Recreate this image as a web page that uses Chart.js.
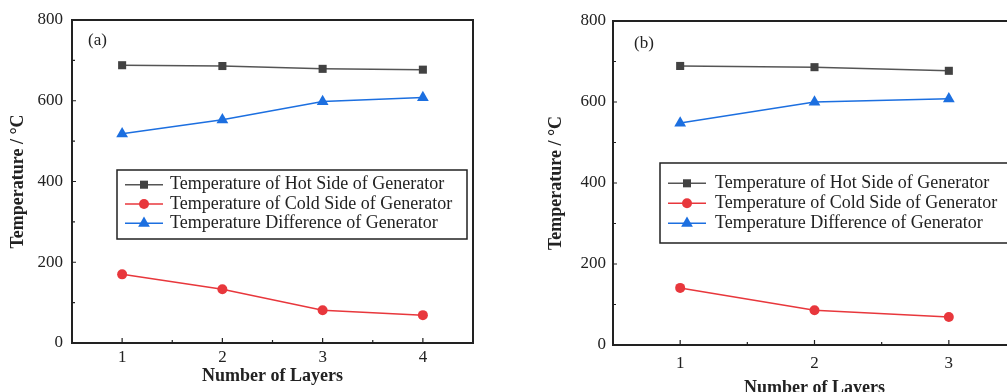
<!DOCTYPE html>
<html>
<head>
<meta charset="utf-8">
<script src="https://cdn.jsdelivr.net/npm/chart.js@4/dist/chart.umd.min.js"></script>
<style>
  html, body { margin: 0; padding: 0; background: #fff; overflow: hidden; width: 1007px; height: 392px; }
  canvas { position: absolute; top: 0; }
  #chartA { left: 0; }
  #chartB { left: 540px; }
</style>
</head>
<body>
<canvas id="chartA" width="490" height="392"></canvas>
<canvas id="chartB" width="490" height="400"></canvas>
<script>
// panel (a): 4 layers
const layersA = [1, 2, 3, 4];
const hotA = [688, 686, 679, 677];
const coldA = [170, 133, 81, 69];
const diffA = [518, 553, 598, 608];
const xMinorA = [1.5, 2.5, 3.5];

// panel (b): 3 layers
const layersB = [1, 2, 3];
const hotB = [689, 686, 677];
const coldB = [141, 86, 69];
const diffB = [548, 600, 608];
const xMinorB = [1.5, 2.5];

const yMajor = [0, 200, 400, 600, 800];
const yMinor = [100, 300, 500, 700];

const seriesNames = [
    'Temperature of Hot Side of Generator',
    'Temperature of Cold Side of Generator',
    'Temperature Difference of Generator'
];

const FONT = "'Liberation Serif', 'Times New Roman', serif";
const INK = '#222';

const styles = [
    { line: '#555555', fill: '#424242', point: 'rect', radius: 5.7 },
    { line: '#e8373c', fill: '#e8373c', point: 'circle', radius: 5 },
    { line: '#1c6fe0', fill: '#1c6fe0', point: 'triangle', radius: 6.8 }
];

function toPoints(xs, ys) {
    return xs.map((x, i) => ({ x: x, y: ys[i] }));
}

// frame, inward ticks, panel label and the boxed legend
const decorPlugin = {
    id: 'decor',
    afterDraw(chart, args, opts) {
        const { ctx, chartArea: a, scales: { x, y } } = chart;
        ctx.save();
        ctx.strokeStyle = INK;
        ctx.lineWidth = 2;
        ctx.strokeRect(a.left, a.top, a.right - a.left, a.bottom - a.top);

        ctx.lineWidth = 1.2;
        ctx.beginPath();
        opts.xMajor.forEach(v => { const px = x.getPixelForValue(v); ctx.moveTo(px, a.bottom); ctx.lineTo(px, a.bottom - 5); });
        opts.xMinor.forEach(v => { const px = x.getPixelForValue(v); ctx.moveTo(px, a.bottom); ctx.lineTo(px, a.bottom - 3); });
        yMajor.forEach(v => { const py = y.getPixelForValue(v); ctx.moveTo(a.left, py); ctx.lineTo(a.left + 4, py); });
        yMinor.forEach(v => { const py = y.getPixelForValue(v); ctx.moveTo(a.left, py); ctx.lineTo(a.left + 3, py); });
        ctx.stroke();

        ctx.font = '17px ' + FONT;
        ctx.fillStyle = INK;
        ctx.textBaseline = 'middle';
        ctx.textAlign = 'left';
        ctx.fillText(opts.label, a.left + opts.labelX, a.top + opts.labelY);

        // legend box
        const lg = opts.legend;
        const bx = a.left + lg.x, by = a.top + lg.y;
        ctx.font = '18px ' + FONT;
        ctx.lineWidth = 1.5;
        ctx.strokeStyle = INK;
        ctx.strokeRect(bx, by, lg.w, lg.h);
        seriesNames.forEach((name, i) => {
            const st = styles[i];
            const ry = by + lg.first + i * lg.step;
            ctx.strokeStyle = st.line;
            ctx.lineWidth = 1.5;
            ctx.beginPath();
            ctx.moveTo(bx + 8, ry);
            ctx.lineTo(bx + 46, ry);
            ctx.stroke();
            ctx.fillStyle = st.fill;
            ctx.strokeStyle = st.fill;
            Chart.helpers.drawPoint(ctx, { pointStyle: st.point, radius: st.radius, borderWidth: 0, rotation: 0 }, bx + 27, ry);
            ctx.fillStyle = INK;
            ctx.fillText(name, bx + lg.textX, ry);
        });
        ctx.restore();
    }
};

function makeChart(canvasId, layers, hot, cold, diff, cfg) {
    const canvas = document.getElementById(canvasId);
    const values = [hot, cold, diff];
    return new Chart(canvas, {
        type: 'line',
        data: {
            datasets: values.map((vals, i) => ({
                label: seriesNames[i],
                data: toPoints(layers, vals),
                borderColor: styles[i].line,
                backgroundColor: styles[i].fill,
                pointBackgroundColor: styles[i].fill,
                pointBorderColor: styles[i].fill,
                pointBorderWidth: 0,
                pointStyle: styles[i].point,
                pointRadius: styles[i].radius,
                borderWidth: 1.5,
                tension: 0
            }))
        },
        options: {
            responsive: false,
            animation: false,
            layout: { padding: cfg.padding },
            plugins: {
                legend: { display: false },
                tooltip: { enabled: false },
                decor: cfg.decor
            },
            scales: {
                x: {
                    type: 'linear',
                    min: 0.5,
                    max: layers.length + 0.5,
                    afterBuildTicks: s => { s.ticks = layers.map(v => ({ value: v })); },
                    afterFit: s => { s.height = cfg.xHeight; },
                    grid: { display: false, drawTicks: false },
                    border: { display: true, color: INK, width: 2 },
                    ticks: { color: INK, padding: cfg.xPad, font: { family: FONT, size: 17 } },
                    title: {
                        display: true,
                        text: 'Number of Layers',
                        color: INK,
                        padding: { top: 0, bottom: cfg.xTitlePad },
                        font: { family: FONT, size: 18, weight: 'bold' }
                    }
                },
                y: {
                    min: 0,
                    max: 800,
                    afterBuildTicks: s => { s.ticks = yMajor.map(v => ({ value: v })); },
                    afterFit: s => { s.width = cfg.yWidth; },
                    grid: { display: false, drawTicks: false },
                    border: { display: true, color: INK, width: 2 },
                    ticks: { color: INK, padding: cfg.yPad, font: { family: FONT, size: 17 } },
                    title: {
                        display: true,
                        text: 'Temperature / \u00B0C',
                        color: INK,
                        padding: { top: cfg.yTitlePad, bottom: 0 },
                        font: { family: FONT, size: 18, weight: 'bold' }
                    }
                }
            }
        },
        plugins: [decorPlugin]
    });
}

makeChart('chartA', layersA, hotA, coldA, diffA, {
    padding: { top: 20, right: 17, bottom: 0, left: 0 },
    xHeight: 49, yWidth: 72, xPad: 4, yPad: 9, xTitlePad: 4.5, yTitlePad: 7.5,
    decor: {
        xMajor: layersA, xMinor: xMinorA, label: '(a)', labelX: 16, labelY: 21,
        legend: { x: 45, y: 150, w: 350, h: 69, first: 14.7, step: 19.3, textX: 53 }
    }
});

makeChart('chartB', layersB, hotB, coldB, diffB, {
    padding: { top: 21, right: 14, bottom: 0, left: 0 },
    xHeight: 55, yWidth: 73, xPad: 8, yPad: 7, xTitlePad: 1, yTitlePad: 6,
    decor: {
        xMajor: layersB, xMinor: xMinorB, label: '(b)', labelX: 21, labelY: 23,
        legend: { x: 47, y: 142, w: 380, h: 80, first: 20.3, step: 20, textX: 55 }
    }
});
</script>
</body>
</html>
